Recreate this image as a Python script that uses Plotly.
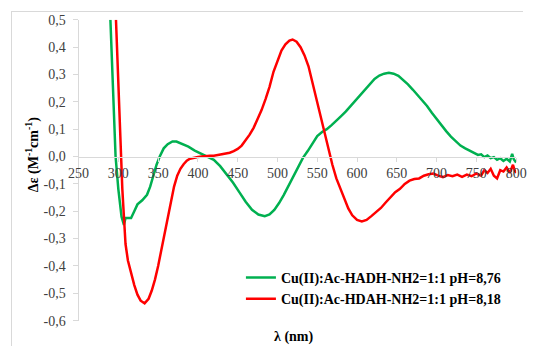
import plotly.graph_objects as go

# ---- data ----
green_name = "Cu(II):Ac-HADH-NH2=1:1 pH=8,76"
green_wl = [290, 293, 296.5, 300, 304, 307, 309, 312, 316, 320, 324, 330, 336, 340, 344, 348, 352,
            357, 362, 368, 373, 380, 388, 396, 404, 412, 420, 428, 436, 444, 452, 460, 468, 476,
            484, 490, 496, 502, 508, 514, 520, 526, 532, 538, 544, 550, 556, 562, 568, 574, 580,
            586, 592, 598, 604, 610, 616, 622, 628, 634, 640, 646, 652, 658, 664, 670, 676, 682,
            688, 694, 700, 706, 712, 718, 724, 730, 736, 742, 748, 752, 756, 760, 764, 768, 772,
            776, 780, 784, 788, 792, 795, 797, 800]
green_de = [0.50, 0.25, 0.0, -0.12, -0.22, -0.25, -0.225, -0.225, -0.225, -0.20, -0.175, -0.16,
            -0.14, -0.11, -0.07, -0.03, 0.0, 0.03, 0.045, 0.055, 0.055, 0.047, 0.036, 0.022,
            0.01, 0.0, -0.012, -0.035, -0.065, -0.095, -0.13, -0.165, -0.195, -0.212, -0.218,
            -0.212, -0.195, -0.17, -0.14, -0.105, -0.07, -0.035, -0.005, 0.02, 0.048, 0.075,
            0.09, 0.1, 0.115, 0.13, 0.148, 0.165, 0.185, 0.205, 0.225, 0.248, 0.268, 0.284,
            0.296, 0.303, 0.306, 0.303, 0.295, 0.28, 0.264, 0.245, 0.225, 0.205, 0.185, 0.16,
            0.137, 0.115, 0.093, 0.073, 0.055, 0.04, 0.03, 0.022, 0.014, 0.006, 0.008, -0.002,
            0.004, -0.006, -0.002, -0.012, -0.006, -0.016, -0.008, -0.018, 0.01, -0.01, -0.022]

red_name = "Cu(II):Ac-HDAH-NH2=1:1 pH=8,18"
red_wl = [297, 300, 303, 305, 307, 309, 312, 316, 320, 324, 328, 333, 338, 342, 346, 350, 354,
          358, 362, 366, 370, 374, 378, 382, 386, 390, 395, 400, 405, 410, 415, 420, 425, 430,
          435, 440, 445, 450, 455, 460, 465, 470, 475, 480, 485, 490, 495, 500, 505, 510, 515,
          519, 524, 529, 534, 539, 544, 549, 554, 559, 564, 569, 574, 579, 584, 589, 594, 600,
          606, 612, 618, 624, 630, 636, 642, 648, 654, 660, 666, 672, 678, 684, 690, 696, 702,
          708, 714, 720, 726, 732, 738, 744, 750, 756, 760, 764, 768, 772, 776, 780, 784, 788,
          792, 796, 798, 800]
red_de = [0.50, 0.25, 0.0, -0.12, -0.22, -0.32, -0.38, -0.43, -0.47, -0.505, -0.527, -0.537,
          -0.52, -0.49, -0.45, -0.4, -0.34, -0.28, -0.22, -0.165, -0.11, -0.07, -0.045, -0.028,
          -0.015, -0.008, -0.004, -0.002, 0.0, 0.002, 0.003, 0.003, 0.006, 0.007, 0.01, 0.014,
          0.02, 0.028, 0.04, 0.058, 0.08, 0.105, 0.135, 0.17, 0.21, 0.255, 0.31, 0.35, 0.388,
          0.41, 0.424, 0.428, 0.42, 0.4, 0.37, 0.33, 0.27, 0.21, 0.15, 0.085, 0.025, -0.03,
          -0.08, -0.115, -0.155, -0.19, -0.215, -0.232, -0.237, -0.232, -0.218, -0.202, -0.188,
          -0.168, -0.148, -0.13, -0.118, -0.1, -0.088, -0.082, -0.08, -0.07, -0.065, -0.062,
          -0.07, -0.075, -0.068, -0.072, -0.066, -0.074, -0.066, -0.072, -0.062, -0.07, -0.05,
          -0.06, -0.045, -0.07, -0.08, -0.05, -0.055, -0.04, -0.06, -0.03, -0.05, -0.06]

x_ticks = [250, 300, 350, 400, 450, 500, 550, 600, 650, 700, 750, 800]
y_ticks = [0.5, 0.4, 0.3, 0.2, 0.1, 0.0, -0.1, -0.2, -0.3, -0.4, -0.5, -0.6]
y_ticklabels = ["0,5", "0,4", "0,3", "0,2", "0,1", "0,0", "-0,1", "-0,2", "-0,3", "-0,4", "-0,5", "-0,6"]
x_range = [250, 800]
y_range = [-0.6, 0.5]

FONT = "'Liberation Serif', 'Times New Roman', serif"
AX = "#d9d9d9"
TICKC = "#404040"

fig = go.Figure()
fig.add_trace(go.Scatter(x=green_wl, y=green_de, mode="lines", name=green_name,
                         line=dict(color="#00b050", width=2.5)))
fig.add_trace(go.Scatter(x=red_wl, y=red_de, mode="lines", name=red_name,
                         line=dict(color="#ff0000", width=2.5)))
# empty trace that only carries the outer chart-area frame axes
fig.add_trace(go.Scatter(x=[], y=[], xaxis="x2", yaxis="y2", showlegend=False,
                         hoverinfo="skip"))

x_dom = [0.1303, 0.9866]
y_dom = [0.0760, 0.9766]
zero_pos = y_dom[0] + (y_dom[1] - y_dom[0]) * (0 - y_range[0]) / (y_range[1] - y_range[0])

fig.update_layout(
    width=534, height=354,
    margin=dict(l=12, r=0, t=12, b=0),
    paper_bgcolor="white", plot_bgcolor="rgba(0,0,0,0)",
    font=dict(family=FONT, size=14, color=TICKC),
    xaxis=dict(domain=x_dom, range=x_range, tickvals=x_ticks, showgrid=False, zeroline=False,
               showline=True, linecolor=AX, linewidth=1, ticks="outside", ticklen=4,
               tickcolor=AX, anchor="free", position=zero_pos, ticklabeloverflow="allow",
               tickfont=dict(family=FONT, size=14, color=TICKC)),
    yaxis=dict(domain=y_dom, range=y_range, tickvals=y_ticks, ticktext=y_ticklabels,
               showgrid=False, zeroline=False, showline=True, linecolor=AX, linewidth=1,
               ticks="outside", ticklen=5, tickcolor=AX, ticklabelstandoff=4,
               anchor="x", tickfont=dict(family=FONT, size=14, color=TICKC)),
    xaxis2=dict(domain=[0, 1], range=[0, 1], anchor="y2", side="top", showline=True,
                linecolor=AX, linewidth=1, showticklabels=False, ticks="", showgrid=False,
                zeroline=False, fixedrange=True),
    yaxis2=dict(domain=[0, 1], range=[0, 1], anchor="x2", side="left", showline=True,
                linecolor=AX, linewidth=1, showticklabels=False, ticks="", showgrid=False,
                zeroline=False, fixedrange=True),
    legend=dict(x=0.448, y=0.252, xanchor="left", yanchor="top", bgcolor="rgba(0,0,0,0)",
                font=dict(family=FONT, size=14, color="#000000", weight="bold"),
                itemwidth=30, tracegroupgap=0),
    annotations=[
        dict(text="Δε (M<sup>-1</sup>cm<sup>-1</sup>)", xref="paper", yref="paper",
             x=0.0404, y=0.5731, xanchor="center", yanchor="middle", textangle=-90,
             showarrow=False,
             font=dict(family=FONT, size=14, color="#000000", weight="bold")),
        dict(text="λ (nm)", xref="paper", yref="paper", x=0.5517, y=0.0263,
             xanchor="center", yanchor="middle", showarrow=False,
             font=dict(family=FONT, size=14, color="#000000", weight="bold")),
    ],
)

fig.write_html("out.html", config={"displayModeBar": False},
               post_script="document.body.style.margin='0';")
